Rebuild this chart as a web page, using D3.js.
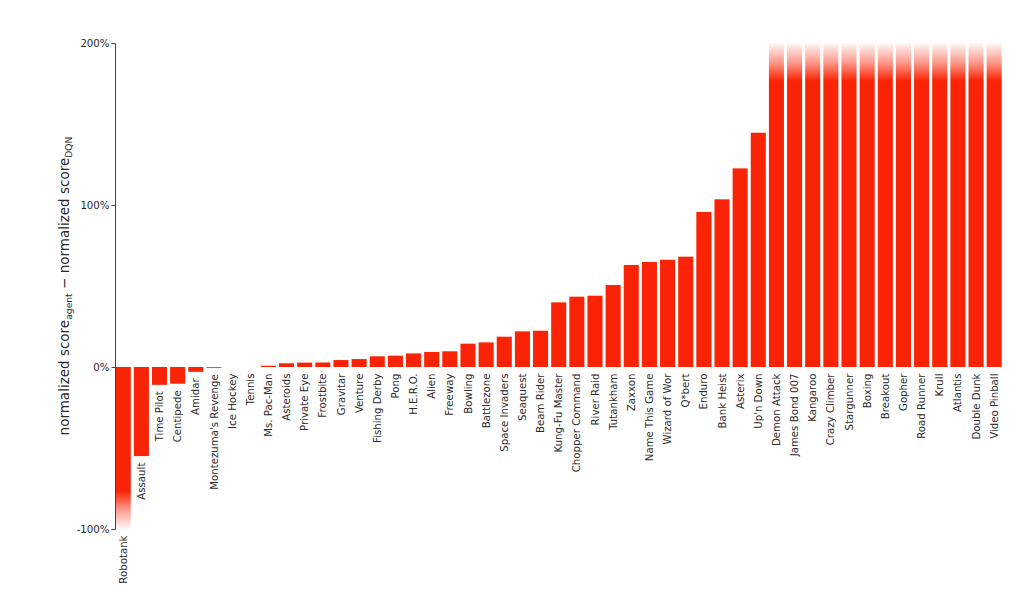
<!DOCTYPE html>
<html>
<head>
<meta charset="utf-8">
<script src="https://cdn.jsdelivr.net/npm/d3@7"></script>
<style>
  html, body { margin: 0; padding: 0; background: #fff; }
  svg { display: block; font-family: "DejaVu Sans", sans-serif; }
</style>
</head>
<body>
<svg id="chart" width="1024" height="603"></svg>
<script>
const games = ["Robotank","Assault","Time Pilot","Centipede","Amidar","Montezuma's Revenge","Ice Hockey","Tennis",
  "Ms. Pac-Man","Asteroids","Private Eye","Frostbite","Gravitar","Venture","Fishing Derby","Pong","H.E.R.O.",
  "Alien","Freeway","Bowling","Battlezone","Space Invaders","Seaquest","Beam Rider","Kung-Fu Master",
  "Chopper Command","River Raid","Tutankham","Zaxxon","Name This Game","Wizard of Wor","Q*bert","Enduro",
  "Bank Heist","Asterix","Up'n Down","Demon Attack","James Bond 007","Kangaroo","Crazy Climber","Stargunner",
  "Boxing","Breakout","Gopher","Road Runner","Krull","Atlantis","Double Dunk","Video Pinball"];
// percent difference of normalized scores (values beyond the axis range are estimates; drawn clipped)
const diffs = [-120,-55,-11,-10.3,-3,-0.5,0,0,
  0.8,2.3,2.7,2.8,4.3,4.9,6.6,7.0,8.4,
  9.3,9.7,14.4,15.2,18.7,22.0,22.4,39.9,
  43.4,44.0,50.6,63.0,64.8,66.2,68.1,95.7,
  103.5,122.6,144.6,210,230,250,270,300,
  320,350,400,450,500,600,700,900];
const yTicks = [-100, 0, 100, 200];
const yMin = -100, yMax = 200;

const svg = d3.select("#chart");
const x = d3.scaleBand().domain(games).range([115.7, 1001.7]).paddingInner(0.17).paddingOuter(0);
const y = d3.scaleLinear().domain([yMin, yMax]).range([529, 43]);
const red = "#fa2305";

const defs = svg.append("defs");
const gTop = defs.append("linearGradient").attr("id", "fadeTop")
  .attr("gradientUnits", "userSpaceOnUse")
  .attr("x1", 0).attr("x2", 0).attr("y1", y(yMax)).attr("y2", y(yMax) + 38);
gTop.append("stop").attr("offset", 0).attr("stop-color", red).attr("stop-opacity", 0.03);
gTop.append("stop").attr("offset", 0.5).attr("stop-color", red).attr("stop-opacity", 0.45);
gTop.append("stop").attr("offset", 1).attr("stop-color", red).attr("stop-opacity", 1);
const gBot = defs.append("linearGradient").attr("id", "fadeBot")
  .attr("gradientUnits", "userSpaceOnUse")
  .attr("x1", 0).attr("x2", 0).attr("y1", y(yMin)).attr("y2", y(yMin) - 38);
gBot.append("stop").attr("offset", 0).attr("stop-color", red).attr("stop-opacity", 0.03);
gBot.append("stop").attr("offset", 0.5).attr("stop-color", red).attr("stop-opacity", 0.45);
gBot.append("stop").attr("offset", 1).attr("stop-color", red).attr("stop-opacity", 1);

const data = games.map((g, i) => ({ game: g, v: diffs[i] }));
const clamp = v => Math.max(yMin, Math.min(yMax, v));

svg.append("g").selectAll("rect").data(data).join("rect")
  .attr("x", d => x(d.game))
  .attr("width", x.bandwidth())
  .attr("y", d => Math.min(y(0), y(clamp(d.v))))
  .attr("height", d => Math.abs(y(clamp(d.v)) - y(0)))
  .attr("fill", d => d.v > yMax ? "url(#fadeTop)" : d.v < yMin ? "url(#fadeBot)" : red);

// game labels
svg.append("g").selectAll("text").data(data).join("text")
  .attr("transform", d => `translate(${x(d.game) + x.bandwidth() / 2},${Math.max(y(0), y(clamp(d.v))) + 6.5}) rotate(-90)`)
  .attr("text-anchor", "end")
  .attr("dy", "0.35em")
  .attr("font-size", 10.2)
  .attr("fill", "#2a2a2a")
  .text(d => d.game);

// y axis
const axis = svg.append("g").attr("transform", "translate(115,0)")
  .call(d3.axisLeft(y).tickValues(yTicks).tickFormat(d => d + "%").tickSize(3.5).tickPadding(2));
axis.select(".domain").attr("stroke", "#444").attr("stroke-width", 1);
axis.selectAll(".tick line").attr("stroke", "#444");
axis.selectAll(".tick text").attr("font-size", 10.2).attr("fill", "#2a2a2a").attr("font-family", "DejaVu Sans, sans-serif");

// y title
const title = svg.append("text")
  .attr("transform", `translate(69,${(y(yMin) + y(yMax)) / 2}) rotate(-90)`)
  .attr("text-anchor", "middle")
  .attr("font-size", 13.5)
  .attr("fill", "#2a2a2a");
title.append("tspan").text("normalized score");
title.append("tspan").attr("font-size", 9.2).attr("dy", 3).text("agent");
title.append("tspan").attr("dy", -3).text(" \u2212 normalized score");
title.append("tspan").attr("font-size", 9.2).attr("dy", 3).text("DQN");
</script>
</body>
</html>
